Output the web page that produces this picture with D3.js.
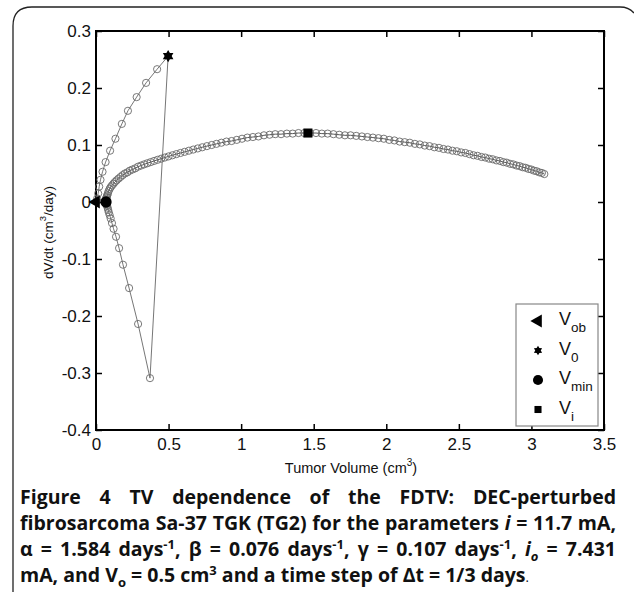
<!DOCTYPE html>
<html>
<head>
<meta charset="utf-8">
<script src="https://cdn.jsdelivr.net/npm/d3@7"></script>
<style>
    body { margin: 0; background: #fff; }
    #box { position: relative; width: 634px; height: 599px; }
    svg { position: absolute; left: 0; top: 0; }
    .cap { position: absolute; left: 20px; font-family: "Open Sans", sans-serif; font-weight: 700;
        font-size: 19.5px; line-height: 26px; color: #111; white-space: nowrap; }
    .cap sup, .cap sub { font-size: 13px; line-height: 0; }
</style>
</head>
<body>
<div id="box"></div>
<script>
// upper branch: growth from V_ob up to V0
var upperV = [0.003, 0.008, 0.015, 0.022, 0.031, 0.045, 0.066, 0.097, 0.134, 0.178, 0.220, 0.280, 0.345, 0.421];
var upperDV = [0.001, 0.006, 0.015, 0.027, 0.039, 0.053, 0.070, 0.090, 0.111, 0.137, 0.160, 0.184, 0.209, 0.233];

// lower branch: after perturbation, down to V_min
var lowerV = [0.372, 0.290, 0.228, 0.186, 0.159, 0.138, 0.121, 0.110, 0.101, 0.094, 0.088, 0.084, 0.080, 0.077, 0.074, 0.072, 0.070];
var lowerDV = [-0.309, -0.214, -0.151, -0.110, -0.081, -0.061, -0.047, -0.037, -0.029, -0.023, -0.018, -0.014, -0.010, -0.007, -0.005, -0.003, -0.001];

// regrowth from V_min
var regrowV = [0.069, 0.070, 0.072, 0.075, 0.078, 0.082, 0.087, 0.094, 0.101, 0.110,
    0.120, 0.130, 0.142, 0.155, 0.169, 0.183, 0.199, 0.216, 0.233, 0.251,
    0.270, 0.290, 0.311, 0.332, 0.354, 0.377, 0.400, 0.424, 0.449, 0.474,
    0.500, 0.527, 0.554, 0.582, 0.611, 0.640, 0.670, 0.701, 0.732, 0.764,
    0.797, 0.830, 0.864, 0.899, 0.934, 0.970, 1.006, 1.043, 1.081, 1.119,
    1.157, 1.196, 1.235, 1.275, 1.315, 1.355, 1.395, 1.435, 1.475, 1.516,
    1.556, 1.596, 1.636, 1.676, 1.715, 1.754, 1.793, 1.832, 1.870, 1.908,
    1.946, 1.983, 2.020, 2.056, 2.092, 2.127, 2.162, 2.197, 2.231, 2.265,
    2.298, 2.331, 2.363, 2.394, 2.425, 2.456, 2.486, 2.516, 2.545, 2.573,
    2.601, 2.629, 2.656, 2.682, 2.708, 2.733, 2.758, 2.783, 2.807, 2.830,
    2.853, 2.875, 2.897, 2.918, 2.939, 2.960, 2.980, 2.999, 3.018, 3.036,
    3.054, 3.072, 3.089];
var regrowDV = [0.004, 0.006, 0.008, 0.010, 0.012, 0.015, 0.019, 0.023, 0.026, 0.029,
    0.032, 0.035, 0.038, 0.041, 0.044, 0.047, 0.050, 0.052, 0.055, 0.057,
    0.059, 0.062, 0.064, 0.066, 0.068, 0.070, 0.072, 0.074, 0.076, 0.078,
    0.080, 0.082, 0.084, 0.086, 0.088, 0.090, 0.092, 0.094, 0.096, 0.098,
    0.100, 0.102, 0.104, 0.106, 0.107, 0.109, 0.111, 0.113, 0.114, 0.115,
    0.117, 0.118, 0.119, 0.119, 0.120, 0.120, 0.121, 0.121, 0.121, 0.121,
    0.120, 0.120, 0.119, 0.118, 0.117, 0.117, 0.116, 0.115, 0.114, 0.113,
    0.112, 0.111, 0.109, 0.108, 0.106, 0.105, 0.104, 0.102, 0.101, 0.099,
    0.098, 0.096, 0.095, 0.093, 0.092, 0.090, 0.089, 0.087, 0.086, 0.084,
    0.082, 0.081, 0.079, 0.078, 0.076, 0.075, 0.073, 0.072, 0.070, 0.069,
    0.067, 0.066, 0.064, 0.063, 0.061, 0.060, 0.058, 0.057, 0.055, 0.054,
    0.052, 0.051, 0.049];

// special points [V, dV/dt]
var pVob = [0, 0];
var pV0 = [0.497, 0.256];
var pVmin = [0.069, 0];
var pVi = [1.46, 0.121];

var xTicks = [0, 0.5, 1, 1.5, 2, 2.5, 3, 3.5];
var yTicks = [-0.4, -0.3, -0.2, -0.1, 0, 0.1, 0.2, 0.3];
var legendNames = [["V", "ob"], ["V", "0"], ["V", "min"], ["V", "i"]];

var W = 634, H = 599;
var plot = {left: 96, right: 604, top: 31, bottom: 430};

var svg = d3.select('#box').append('svg').attr('width', W).attr('height', H);

// outer frame
svg.append('path')
    .attr('d', 'M13,592 V26 Q13,7 32,7 H620 Q629,7 634,13')
    .attr('fill', 'none').attr('stroke', '#222').attr('stroke-width', 1.3);

var x = d3.scaleLinear().domain([0, 3.5]).range([plot.left, plot.right]);
var y = d3.scaleLinear().domain([-0.4, 0.3]).range([plot.bottom, plot.top]);

var fmt = function (d) { return d === 0 ? '0' : String(+d.toFixed(1)); };
var fontAx = '"Liberation Sans", Arial, sans-serif';

function styleAxis(g) {
    g.select('.domain').remove();
    g.selectAll('line').attr('stroke', '#000').attr('stroke-width', 1.5);
    g.selectAll('text').attr('font-family', fontAx).attr('font-size', 17).attr('fill', '#111');
}

svg.append('g').attr('transform', 'translate(0,' + plot.bottom + ')')
    .call(d3.axisBottom(x).tickValues(xTicks).tickFormat(fmt).tickSize(-6).tickPadding(8)).call(styleAxis);
svg.append('g').attr('transform', 'translate(0,' + plot.top + ')')
    .call(d3.axisTop(x).tickValues(xTicks).tickFormat('').tickSize(-6)).call(styleAxis);
svg.append('g').attr('transform', 'translate(' + plot.left + ',0)')
    .call(d3.axisLeft(y).tickValues(yTicks).tickFormat(fmt).tickSize(-6).tickPadding(5)).call(styleAxis);
svg.append('g').attr('transform', 'translate(' + plot.right + ',0)')
    .call(d3.axisRight(y).tickValues(yTicks).tickFormat('').tickSize(-6)).call(styleAxis);

svg.append('rect')
    .attr('x', plot.left).attr('y', plot.top)
    .attr('width', plot.right - plot.left).attr('height', plot.bottom - plot.top)
    .attr('fill', 'none').attr('stroke', '#000').attr('stroke-width', 2);

// axis titles
var xt = svg.append('text').attr('x', (plot.left + plot.right) / 2 + 1).attr('y', 473)
    .attr('text-anchor', 'middle').attr('font-family', fontAx).attr('font-size', 14.5).attr('fill', '#111');
xt.append('tspan').text('Tumor Volume (cm');
xt.append('tspan').attr('font-size', 10).attr('dy', -7).text('3');
xt.append('tspan').attr('dy', 7).text(')');

var yt = svg.append('text').attr('transform', 'translate(53,' + ((plot.top + plot.bottom) / 2 + 2) + ') rotate(-90)')
    .attr('text-anchor', 'middle').attr('font-family', fontAx).attr('font-size', 13.5).attr('fill', '#111');
yt.append('tspan').text('dV/dt (cm');
yt.append('tspan').attr('font-size', 9.5).attr('dy', -7).text('3');
yt.append('tspan').attr('dy', 7).text('/day)');

// trajectory data
var zip = function (a, b) { return a.map(function (v, i) { return [v, b[i]]; }); };
var upper = zip(upperV, upperDV);
var lower = zip(lowerV, lowerDV);
var regrow = zip(regrowV, regrowDV);

var line = d3.line().x(function (d) { return x(d[0]); }).y(function (d) { return y(d[1]); });

svg.append('path').datum([pVob].concat(upper, [pV0], lower, [pVmin]))
    .attr('d', line).attr('fill', 'none').attr('stroke', '#666').attr('stroke-width', 0.9);
svg.append('path').datum(regrow)
    .attr('d', line).attr('fill', 'none').attr('stroke', '#444').attr('stroke-width', 0.9);

svg.append('g').selectAll('circle').data(upper.concat(lower, regrow)).join('circle')
    .attr('cx', function (d) { return x(d[0]); })
    .attr('cy', function (d) { return y(d[1]); })
    .attr('r', 3.6)
    .attr('fill', 'none').attr('stroke', '#6a6a6a').attr('stroke-width', 0.9);

// marker shapes
var hexagram = {
    draw: function (ctx, size) {
        var r = Math.sqrt(size) * 0.75;
        for (var k = 0; k < 12; k++) {
            var rr = k % 2 === 0 ? r : r * 0.58;
            var a = -Math.PI / 2 + k * Math.PI / 6;
            if (k === 0) ctx.moveTo(rr * Math.cos(a), rr * Math.sin(a));
            else ctx.lineTo(rr * Math.cos(a), rr * Math.sin(a));
        }
        ctx.closePath();
    }
};
var shapes = [
    {type: d3.symbolTriangle, rot: -90, size: 75},
    {type: hexagram, rot: 0, size: 66},
    {type: d3.symbolCircle, rot: 0, size: 100},
    {type: d3.symbolSquare, rot: 0, size: 82}
];
var specials = [pVob, pV0, pVmin, pVi];

svg.append('g').selectAll('path').data(specials).join('path')
    .attr('d', function (d, i) { return d3.symbol(shapes[i].type, shapes[i].size)(); })
    .attr('transform', function (d, i) { return 'translate(' + x(d[0]) + ',' + y(d[1]) + ') rotate(' + shapes[i].rot + ')'; })
    .attr('fill', '#000');

// legend
var lg = svg.append('g').attr('transform', 'translate(516,304)');
lg.append('rect').attr('width', 82).attr('height', 122)
    .attr('fill', '#fff').attr('stroke', '#888').attr('stroke-width', 1.2);
var legSizes = [75, 40, 80, 50];
var item = lg.selectAll('g.item').data(legendNames).join('g')
    .attr('class', 'item')
    .attr('transform', function (d, i) { return 'translate(0,' + (17 + i * 29.5) + ')'; });
item.append('path')
    .attr('d', function (d, i) { return d3.symbol(shapes[i].type, legSizes[i])(); })
    .attr('transform', function (d, i) { return 'translate(22,0) rotate(' + shapes[i].rot + ')'; })
    .attr('fill', '#000');
var lt = item.append('text').attr('x', 43).attr('y', 4)
    .attr('font-family', fontAx).attr('font-size', 18).attr('fill', '#111');
lt.append('tspan').text(function (d) { return d[0]; });
lt.append('tspan').attr('font-size', 13.5).attr('dy', 7).text(function (d) { return d[1]; });

// caption
var capWidth = 596;
var capLines = [
    {html: 'Figure 4 TV dependence of the FDTV: DEC-perturbed', just: true},
    {html: 'fibrosarcoma Sa-37 TGK (TG2) for the parameters <i>i</i> = 11.7 mA,', just: true},
    {html: '&alpha; = 1.584 days<sup>-1</sup>, &beta; = 0.076 days<sup>-1</sup>, &gamma; = 0.107 days<sup>-1</sup>, <i>i<sub>o</sub></i> = 7.431', just: true},
    {html: 'mA, and V<sub>o</sub> = 0.5 cm<sup>3</sup> and a time step of &Delta;t = 1/3 days<span style="font-weight:400;font-size:13px">.</span>', just: false}
];
var caps = d3.select('#box').selectAll('div.cap').data(capLines).join('div')
    .attr('class', 'cap')
    .style('top', function (d, i) { return (484 + i * 26) + 'px'; })
    .html(function (d) { return d.html; });

// justify lines by hand: spread spaces, or squeeze letters if too long
caps.each(function (d) {
    var el = this;
    var w = el.getBoundingClientRect().width;
    var nSpaces = (el.textContent.match(/ /g) || []).length;
    var nChars = el.textContent.length;
    if (w > capWidth) {
        el.style.letterSpacing = ((capWidth - w) / nChars) + 'px';
        w = el.getBoundingClientRect().width;
    }
    if (d.just && w < capWidth && nSpaces > 0) {
        el.style.wordSpacing = ((capWidth - w) / nSpaces) + 'px';
    }
});
</script>
</body>
</html>
